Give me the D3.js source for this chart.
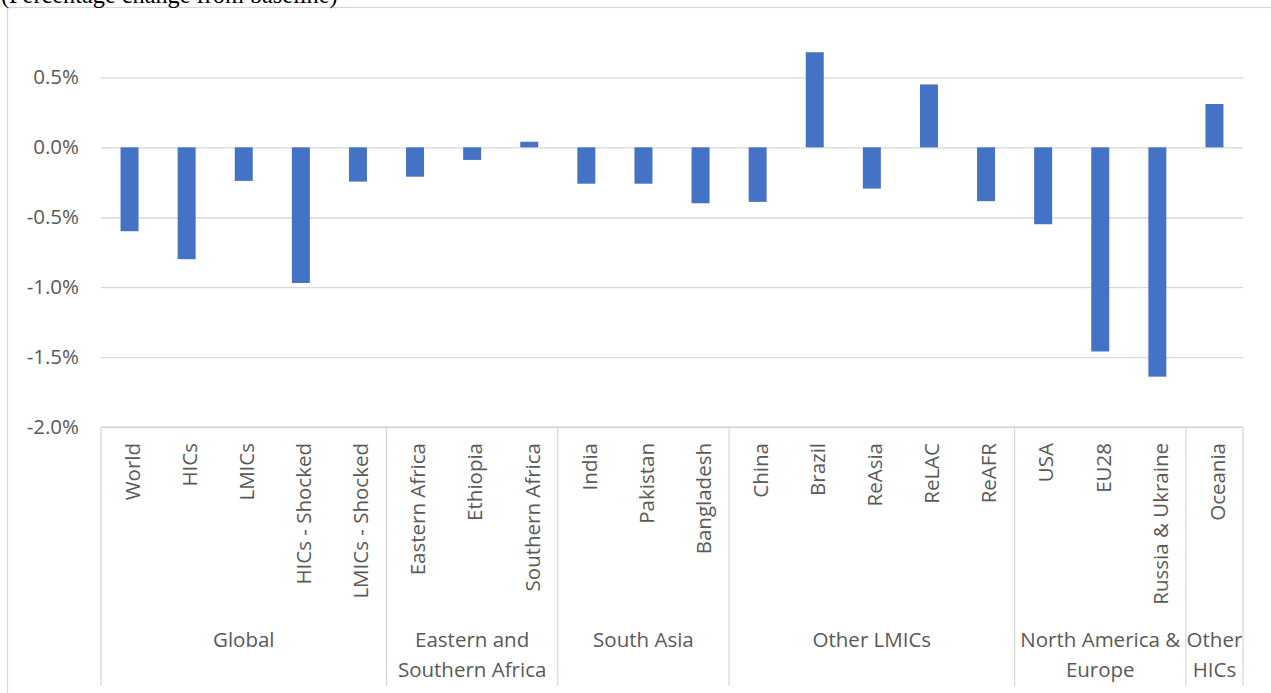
<!DOCTYPE html>
<html>
<head>
<meta charset="utf-8">
<script src="https://cdn.jsdelivr.net/npm/d3@7"></script>
<style>
  html, body { margin: 0; padding: 0; background: #fff; }
  svg { display: block; }
</style>
</head>
<body>
<svg id="chart" width="1271" height="693"></svg>
<script>
// Regions, in display order
const categories = ["World", "HICs", "LMICs", "HICs - Shocked", "LMICs - Shocked",
  "Eastern Africa", "Ethiopia", "Southern Africa",
  "India", "Pakistan", "Bangladesh",
  "China", "Brazil", "ReAsia", "ReLAC", "ReAFR",
  "USA", "EU28", "Russia & Ukraine",
  "Oceania"];

// Percentage change from baseline
const values = [-0.60, -0.80, -0.24, -0.97, -0.245,
  -0.21, -0.09, 0.04,
  -0.26, -0.26, -0.40,
  -0.39, 0.68, -0.295, 0.45, -0.385,
  -0.55, -1.46, -1.64,
  0.31];

// Region groups: number of members and label lines
const groupSizes = [5, 3, 3, 5, 3, 1];
const groupLines = [["Global"], ["Eastern and", "Southern Africa"], ["South Asia"],
  ["Other LMICs"], ["North America &", "Europe"], ["Other", "HICs"]];

const yTicks = [-2.0, -1.5, -1.0, -0.5, 0.0, 0.5];
const title = "(Percentage change from baseline)";

const svg = d3.select("#chart");
const W = 1271, H = 693;
const left = 101, right = 1243, axisTop = 427, axisBottom = 686;
const font = "'Open Sans', sans-serif";
const textColor = "#595959";
const lineColor = "#d9d9d9";

// Chart border
svg.append("rect")
  .attr("x", 7.5).attr("y", 7.5)
  .attr("width", W).attr("height", H)
  .attr("fill", "none").attr("stroke", lineColor).attr("stroke-width", 1.3);

// Caption above the chart
svg.append("text")
  .attr("x", 1).attr("y", 2.5)
  .attr("font-family", "'Liberation Serif', 'Times New Roman', serif")
  .attr("font-size", 24.3)
  .attr("fill", "#000")
  .text(title);

const x = d3.scaleBand()
  .domain(categories)
  .range([left, right])
  .paddingInner(0.685)
  .paddingOuter(0.3425);

const y = d3.scaleLinear().domain([-2, 1]).range([axisTop, 7.5]);

// Gridlines and value axis (plain hyphen for negatives)
const yAxis = d3.axisLeft(y)
  .tickValues(yTicks)
  .tickSize(-(right - left))
  .tickPadding(22)
  .tickFormat(d => d3.format(".1f")(d).replace("\u2212", "-") + "%");

const gy = svg.append("g")
  .attr("transform", `translate(${left},0)`)
  .call(yAxis);
gy.select(".domain").remove();
gy.selectAll(".tick line").attr("stroke", lineColor).attr("stroke-width", 1.3);
gy.selectAll(".tick text")
  .attr("font-family", font).attr("font-size", 20.5)
  .attr("fill", textColor);

// Bars
svg.append("g").selectAll("rect")
  .data(categories)
  .join("rect")
  .attr("x", d => x(d))
  .attr("width", x.bandwidth())
  .attr("y", (d, i) => y(Math.max(0, values[i])))
  .attr("height", (d, i) => Math.abs(y(values[i]) - y(0)))
  .attr("fill", "#4472c4");

// Category axis table
const step = x.step();
const axis = svg.append("g");
axis.append("line")
  .attr("x1", left).attr("x2", right)
  .attr("y1", axisTop).attr("y2", axisTop)
  .attr("stroke", lineColor).attr("stroke-width", 1.3);

const bounds = [0];
groupSizes.forEach(s => bounds.push(bounds[bounds.length - 1] + s));
axis.selectAll("line.div")
  .data(bounds)
  .join("line")
  .attr("class", "div")
  .attr("x1", b => left + b * step).attr("x2", b => left + b * step)
  .attr("y1", axisTop).attr("y2", axisBottom)
  .attr("stroke", lineColor).attr("stroke-width", 1.3);

// Region labels, rotated
axis.selectAll("text.cat")
  .data(categories)
  .join("text")
  .attr("class", "cat")
  .attr("transform", d => `translate(${x(d) + x.bandwidth() / 2},443) rotate(-90)`)
  .attr("dy", "0.5em")
  .attr("text-anchor", "end")
  .attr("font-family", font).attr("font-size", 20.5)
  .attr("fill", textColor)
  .text(d => d);

// Group labels
const groupG = axis.selectAll("text.grp")
  .data(groupLines)
  .join("text")
  .attr("class", "grp")
  .attr("text-anchor", "middle")
  .attr("font-family", font).attr("font-size", 20.5)
  .attr("fill", textColor);
groupG.each(function (lines, i) {
  const cx = left + (bounds[i] + groupSizes[i] / 2) * step;
  d3.select(this).selectAll("tspan")
    .data(lines)
    .join("tspan")
    .attr("x", cx)
    .attr("y", (l, j) => 647 + j * 30)
    .text(l => l);
});
</script>
</body>
</html>
